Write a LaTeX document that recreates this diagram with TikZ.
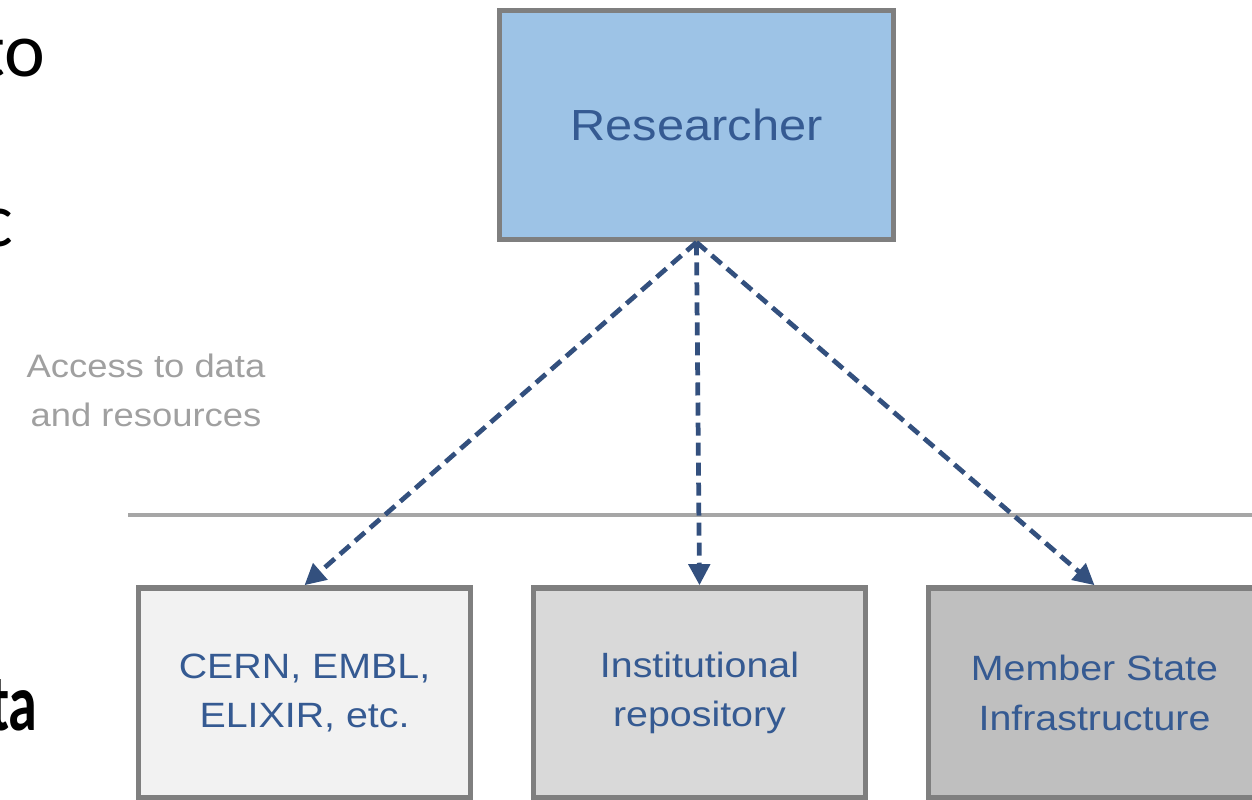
\documentclass[tikz,border=0pt]{standalone}
\usepackage{fontspec}
\usetikzlibrary{arrows.meta}
\newfontfamily\boxfont[FakeStretch=1.12]{Liberation Sans}
\newfontfamily\slidefont{Carlito}
\newfontfamily\slidenarrow[FakeStretch=0.72]{Carlito}
\definecolor{boxgray}{HTML}{7F7F7F}
\definecolor{textblue}{HTML}{355A92}
\definecolor{linkblue}{HTML}{33507E}
\definecolor{labelgray}{HTML}{A0A0A0}
\definecolor{rulegray}{HTML}{A6A6A6}
\definecolor{resblue}{HTML}{9DC3E6}
\definecolor{fillA}{HTML}{F2F2F2}
\definecolor{fillB}{HTML}{D9D9D9}
\definecolor{fillC}{HTML}{BFBFBF}
\begin{document}
\begin{tikzpicture}[x=0.02cm, y=-0.02cm,
    box/.style={draw=boxgray, line width=3.2pt, minimum width=6.64cm, minimum height=4.2cm,
        text=textblue, align=center, font=\boxfont\fontsize{20}{28}\selectfont},
    link/.style={draw=linkblue, line width=2.7pt, dash pattern=on 7.4pt off 4pt,
        -{Triangle[length=12pt, width=12pt]}},
    slide/.style={inner sep=0pt, anchor=base east, font=\slidefont\fontsize{44}{50}\selectfont}]
    \useasboundingbox (0,0) rectangle (1252,800);

    % Cut-off slide text
    \node[slide] (wto) at (46,77) {to};
    \node[slide] (wc) at (14,247) {c};
    \node[slide, font=\slidenarrow\bfseries\fontsize{46}{50}\selectfont] (wta) at (38,730) {ta};

    % Researcher
    \node[box, fill=resblue, minimum width=7.88cm, minimum height=4.58cm,
        font=\boxfont\fontsize{24.8}{30}\selectfont] (res) at (696.5,125) {Researcher};

    % Providers
    \node[box, fill=fillA] (cern) at (304.5,693) {CERN, EMBL,\\ELIXIR, etc.};
    \node[box, fill=fillB] (inst) at (699.5,693) {Institutional\\repository};
    \node[box, fill=fillC] (msi) at (1094.5,693) {Member State\\Infrastructure};

    % Separator and label
    \draw[rulegray, line width=2.2pt] (128,515) -- (1252,515);
    \node[text=labelgray, align=center, font=\boxfont\fontsize{18.5}{28}\selectfont] (acc) at (146,390)
        {Access to data\\and resources};

    % Access links
    \draw[link] (res.south) -- (cern.north);
    \draw[link] (res.south) -- (inst.north);
    \draw[link] (res.south) -- (msi.north);
\end{tikzpicture}
\end{document}
